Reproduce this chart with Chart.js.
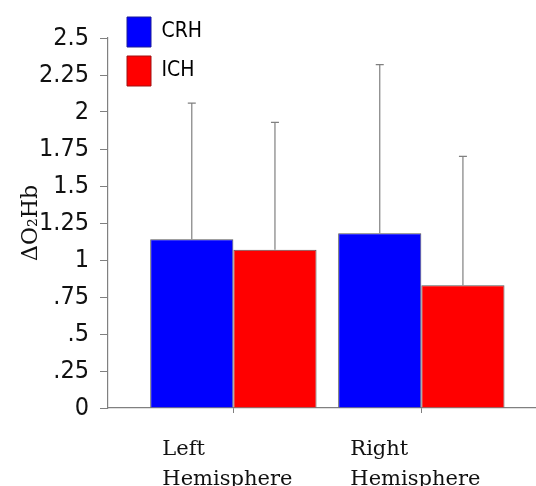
<!DOCTYPE html>
<html>
<head>
<meta charset="utf-8">
<script src="https://cdn.jsdelivr.net/npm/chart.js@4"></script>
<style>
  html, body { margin: 0; padding: 0; background: #fff; }
  #wrap { width: 536px; height: 486px; }
</style>
</head>
<body>
<div id="wrap"><canvas id="chart" width="536" height="486"></canvas></div>
<script>
const categories = [['Left', 'Hemisphere'], ['Right', 'Hemisphere']];
const categoryPos = [1, 2];
const crh = [1.14, 1.18];
const ich = [1.07, 0.83];
const crhUpper = [2.06, 2.32];
const ichUpper = [1.93, 1.70];
const yTickLabels = ['0', '.25', '.5', '.75', '1', '1.25', '1.5', '1.75', '2', '2.25', '2.5'];

const tickFont = { family: '"Liberation Sans Narrow", "DejaVu Sans Condensed", sans-serif', size: 25 };
const serifFont = '"DejaVu Serif", "Liberation Serif", serif';

// upper whiskers drawn from the bar tops
const errorBars = {
    id: 'errorBars',
    afterDatasetsDraw(chart) {
        const ctx = chart.ctx;
        const y = chart.scales.y;
        ctx.save();
        ctx.strokeStyle = '#808080';
        ctx.lineWidth = 1.2;
        chart.data.datasets.forEach((ds, i) => {
            chart.getDatasetMeta(i).data.forEach((bar, j) => {
                const top = y.getPixelForValue(ds.upper[j]);
                ctx.beginPath();
                ctx.moveTo(bar.x, bar.y);
                ctx.lineTo(bar.x, top);
                ctx.moveTo(bar.x - 4, top);
                ctx.lineTo(bar.x + 4, top);
                ctx.stroke();
            });
        });
        ctx.restore();
    }
};

// legend sits inside the plot, nudge it a bit
const legendNudge = {
    id: 'legendNudge',
    afterLayout(chart) {
        chart.legend.left += 10;
        chart.legend.top = 8;
    }
};

const ctx = document.getElementById('chart').getContext('2d');
const myChart = new Chart(ctx, {
    type: 'bar',
    data: {
        datasets: [
            {
                label: 'CRH',
                data: categoryPos.map((x, i) => ({ x: x, y: crh[i] })),
                upper: crhUpper,
                backgroundColor: '#0000ff',
                borderColor: '#555555',
                borderWidth: 1,
                legendStroke: '#1a1a9a'
            },
            {
                label: 'ICH',
                data: categoryPos.map((x, i) => ({ x: x, y: ich[i] })),
                upper: ichUpper,
                backgroundColor: '#ff0000',
                borderColor: '#555555',
                borderWidth: 1,
                legendStroke: '#a01010'
            }
        ]
    },
    options: {
        responsive: false,
        animation: false,
        categoryPercentage: 0.885,
        barPercentage: 1,
        layout: { padding: { top: 38, right: 0, bottom: 0, left: 18 } },
        plugins: {
            tooltip: { enabled: false },
            legend: {
                position: 'chartArea',
                align: 'start',
                labels: {
                    boxWidth: 24,
                    boxHeight: 30,
                    padding: 9,
                    color: '#111',
                    font: { family: tickFont.family, size: 21 },
                    generateLabels(chart) {
                        return chart.data.datasets.map((ds, i) => ({
                            text: ds.label,
                            fillStyle: ds.backgroundColor,
                            strokeStyle: ds.legendStroke,
                            lineWidth: 1,
                            datasetIndex: i
                        }));
                    }
                }
            }
        },
        scales: {
            x: {
                type: 'linear',
                min: 0.333,
                max: 2.61,
                offset: false,
                afterBuildTicks(scale) {
                    scale.ticks = categoryPos.map(v => ({ value: v }));
                },
                afterFit(scale) {
                    scale.paddingLeft = 0;
                    scale.paddingRight = 0;
                    scale.height = 78;
                },
                ticks: {
                    autoSkip: false,
                    maxRotation: 0,
                    align: 'start',
                    labelOffset: -71,
                    padding: 22,
                    color: '#111',
                    font: { family: serifFont, size: 21, lineHeight: 1.4 },
                    callback: (v) => categories[categoryPos.indexOf(v)]
                },
                grid: { offset: false, drawOnChartArea: false, drawTicks: true, tickLength: 5, color: '#808080' },
                border: { display: true, color: '#808080', width: 1.2 }
            },
            y: {
                min: 0,
                max: 2.5,
                afterFit(scale) {
                    scale.paddingTop = 0;
                    scale.width = 90;
                },
                ticks: {
                    stepSize: 0.25,
                    padding: 11,
                    color: '#111',
                    font: tickFont,
                    callback: (v, i) => yTickLabels[i]
                },
                grid: { drawOnChartArea: false, drawTicks: true, tickLength: 8, color: '#808080' },
                border: { display: true, color: '#808080', width: 1.2 },
                title: {
                    display: true,
                    text: 'ΔO₂Hb',
                    color: '#111',
                    font: { family: serifFont, size: 22 },
                    padding: { top: 0, bottom: 6 }
                }
            }
        }
    },
    plugins: [errorBars, legendNudge]
});
</script>
</body>
</html>
